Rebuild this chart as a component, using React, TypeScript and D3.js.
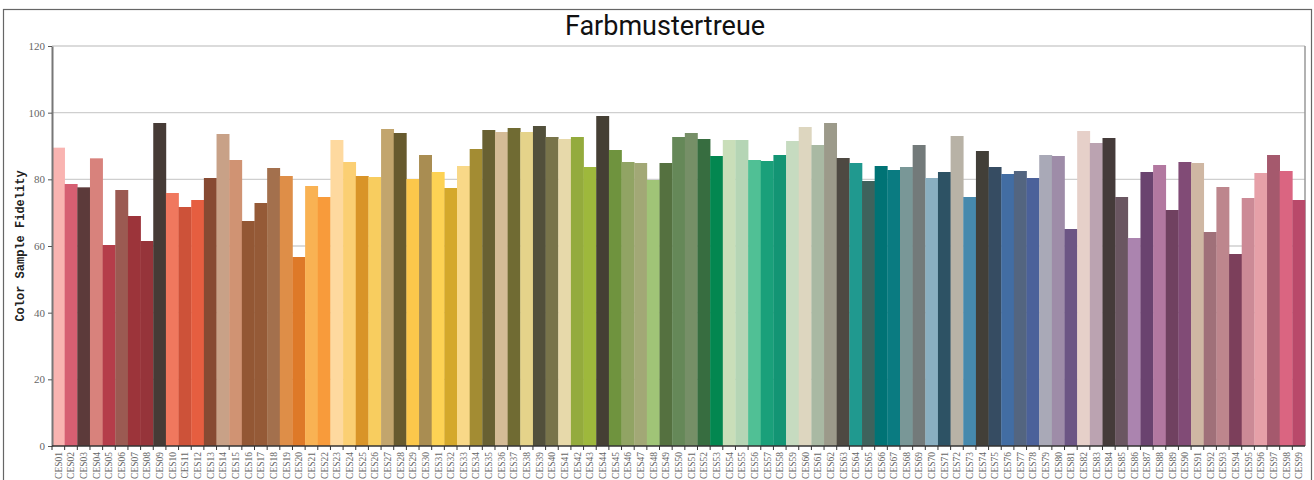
import { useEffect, useRef } from 'react';
import * as d3 from 'd3';

const title = 'Farbmustertreue';
const yLabel = 'Color Sample Fidelity';

const samples = Array.from({ length: 99 }, (_, i) => `CES${String(i + 1).padStart(2, '0')}`);

const fidelity = [
  89.5, 78.6, 77.6, 86.3, 60.3, 76.8, 69.0, 61.5, 96.9, 75.9,
  71.7, 73.8, 80.4, 93.6, 85.8, 67.5, 72.9, 83.4, 81.0, 56.7,
  78.0, 74.7, 91.8, 85.2, 81.0, 80.7, 95.1, 93.9, 80.1, 87.3,
  82.2, 77.4, 84.0, 89.1, 94.8, 94.2, 95.4, 94.2, 96.0, 92.7,
  92.1, 92.7, 83.7, 99.0, 88.8, 85.2, 84.9, 79.8, 84.9, 92.7,
  93.9, 92.1, 87.0, 91.8, 91.8, 85.8, 85.5, 87.3, 91.5, 95.7,
  90.3, 96.9, 86.4, 84.9, 79.5, 84.0, 82.8, 83.7, 90.3, 80.4,
  82.2, 93.0, 74.7, 88.5, 83.7, 81.6, 82.5, 80.4, 87.3, 87.0,
  65.1, 94.5, 90.9, 92.4, 74.7, 62.4, 82.2, 84.3, 70.8, 85.2,
  84.9, 64.2, 77.7, 57.6, 74.4, 81.9, 87.3, 82.5, 73.8,
];

const swatches = [
  '#f9b4b1', '#d65f72', '#5c3a3a', '#d8827c', '#b53d4a', '#9b5a52', '#9c343a', '#96343a', '#463b36', '#f0785e',
  '#cd5239', '#e65e40', '#874a32', '#c8a187', '#d09373', '#935734', '#955a37', '#a3704d', '#de8e48', '#de7928',
  '#f9b253', '#f89b3b', '#fed99f', '#fbcf73', '#d99428', '#f8cd5f', '#c2a56d', '#675a2e', '#fbc74b', '#a98d52',
  '#fdd254', '#d4a82b', '#f8d888', '#a38c33', '#686032', '#d4bb96', '#706b33', '#e5d38a', '#52503b', '#78744a',
  '#e7d9aa', '#94ab3d', '#9eb83c', '#453f34', '#6f933e', '#91a464', '#a2a876', '#a0c477', '#557140', '#658858',
  '#768f67', '#376d40', '#038750', '#c9deb9', '#b5d5b5', '#50c095', '#1aa07a', '#139574', '#c6dbc0', '#ddd6bf',
  '#a9b9a3', '#9c9a8a', '#4e4942', '#20998f', '#3e625c', '#007375', '#0a7b81', '#799797', '#737a7a', '#8aafc1',
  '#2d5264', '#b8b2a6', '#4689ad', '#423f38', '#364c62', '#426da3', '#536580', '#4b619a', '#a9a9b7', '#9e8ca8',
  '#6c5584', '#e6d0c9', '#bba3b1', '#453b3a', '#6a5661', '#ab84af', '#6a436f', '#b278a0', '#704160', '#814b76',
  '#cfb7a3', '#a07079', '#bd868d', '#7c3f5b', '#cc8a96', '#e6a0a8', '#a5596d', '#da6581', '#b9496a',
];

const yTicks = [0, 20, 40, 60, 80, 100, 120];

export default function App() {
  const svgRef = useRef<SVGSVGElement>(null);
  const width = 1314;
  const height = 480;

  useEffect(() => {
    if (!svgRef.current) return;
    const svg = d3.select(svgRef.current);
    svg.selectAll('*').remove();

    const margin = { top: 46, right: 9, bottom: 34, left: 52 };
    const innerWidth = width - margin.left - margin.right;
    const innerHeight = height - margin.top - margin.bottom;

    const data = samples.map((name, i) => ({ name, value: fidelity[i], color: swatches[i] }));

    const x = d3.scaleBand()
      .domain(samples)
      .range([0, innerWidth])
      .padding(0);

    const y = d3.scaleLinear()
      .domain([0, 120])
      .range([innerHeight, 0]);

    // outer frame
    svg.append('rect')
      .attr('x', 3.5)
      .attr('y', 9.5)
      .attr('width', 1308)
      .attr('height', 500)
      .attr('fill', 'none')
      .attr('stroke', '#666')
      .attr('stroke-width', 1.2);

    svg.append('text')
      .attr('x', 665)
      .attr('y', 35)
      .attr('text-anchor', 'middle')
      .style('font-family', 'Roboto, sans-serif')
      .style('font-size', '27px')
      .style('fill', '#111')
      .text(title);

    const g = svg.append('g')
      .attr('transform', `translate(${margin.left},${margin.top})`);

    // grid lines
    g.append('g')
      .selectAll('line')
      .data(yTicks.filter(t => t > 0))
      .enter().append('line')
      .attr('x1', 0)
      .attr('x2', innerWidth)
      .attr('y1', d => y(d))
      .attr('y2', d => y(d))
      .style('stroke', '#cfcfcf')
      .style('stroke-width', 1.4);

    // right border of plot
    g.append('line')
      .attr('x1', innerWidth)
      .attr('x2', innerWidth)
      .attr('y1', 0)
      .attr('y2', innerHeight)
      .style('stroke', '#999')
      .style('stroke-width', 1.5);

    // bars
    g.selectAll('.bar')
      .data(data)
      .enter().append('rect')
      .attr('class', 'bar')
      .attr('x', d => x(d.name) || 0)
      .attr('y', d => y(d.value))
      .attr('width', x.bandwidth() + 0.3)
      .attr('height', d => innerHeight - y(d.value))
      .attr('fill', d => d.color);

    // Y axis
    const yAxis = g.append('g')
      .call(d3.axisLeft(y).tickValues(yTicks).tickSize(4).tickSizeOuter(0));
    yAxis.select('.domain').style('stroke', '#777').style('stroke-width', 2);
    yAxis.selectAll('.tick line').style('stroke', '#555');
    yAxis.selectAll('text')
      .style('fill', '#666')
      .style('font-family', '"Liberation Serif", serif')
      .style('font-size', '11px');

    // X axis with ticks at band edges
    const xAxis = g.append('g')
      .attr('transform', `translate(0,${innerHeight})`);
    xAxis.append('line')
      .attr('x1', 0)
      .attr('x2', innerWidth)
      .style('stroke', '#333')
      .style('stroke-width', 1.5);
    xAxis.selectAll('.edge')
      .data(samples)
      .enter().append('line')
      .attr('class', 'edge')
      .attr('x1', d => x(d) || 0)
      .attr('x2', d => x(d) || 0)
      .attr('y1', 0)
      .attr('y2', 4)
      .style('stroke', '#333');
    xAxis.selectAll('.lbl')
      .data(samples)
      .enter().append('text')
      .attr('class', 'lbl')
      .attr('transform', d => `translate(${(x(d) || 0) + x.bandwidth() / 2 + 3.5},6) rotate(-90)`)
      .attr('text-anchor', 'end')
      .style('fill', '#666')
      .style('font-family', '"Liberation Serif", serif')
      .style('font-size', '9.5px')
      .text(d => d);

    // Y title
    svg.append('text')
      .attr('transform', `translate(23.5,246) rotate(-90)`)
      .attr('text-anchor', 'middle')
      .style('font-family', '"Liberation Mono", monospace')
      .style('font-weight', 'bold')
      .style('font-size', '12px')
      .style('fill', '#222')
      .text(yLabel);
  }, []);

  return (
    <div style={{ position: 'absolute', left: 0, top: 0 }}>
      <svg ref={svgRef} width={width} height={height} />
    </div>
  );
}
